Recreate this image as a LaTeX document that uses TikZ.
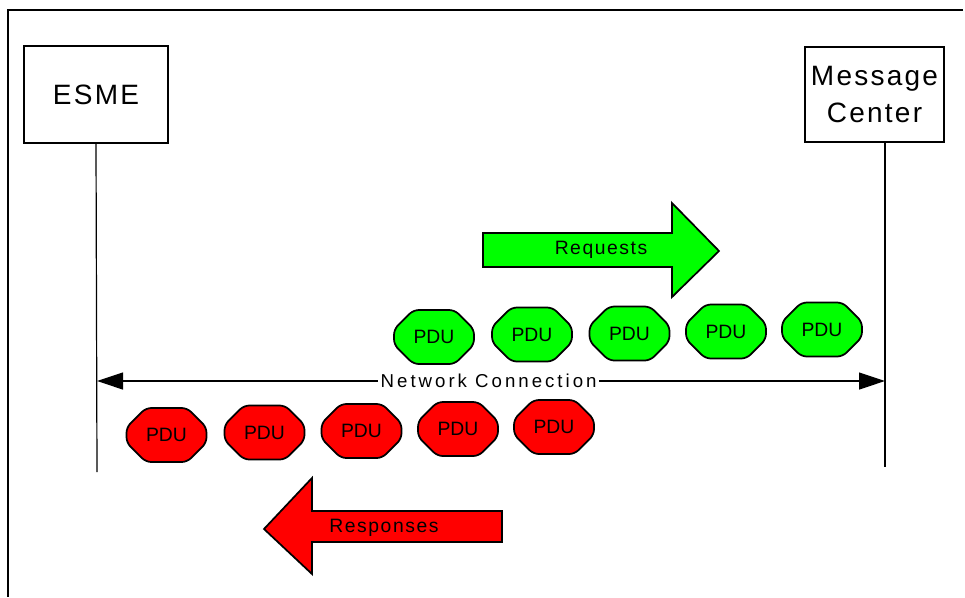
\documentclass[tikz,border=0pt]{standalone}
\usepackage{fontspec}
\setmainfont{Liberation Sans}
\newfontfamily\widefont[LetterSpace=8]{Liberation Sans}
\newfontfamily\widerfont[LetterSpace=16]{Liberation Sans}
\usetikzlibrary{arrows.meta,shapes.misc}

\definecolor{pdugreen}{RGB}{0,255,0}
\definecolor{pdured}{RGB}{255,0,0}

\tikzset{
  entity/.style={draw, line width=0.9pt, inner sep=0pt, align=center,
    font=\widefont\fontsize{21}{28}\selectfont},
  pdu/.style={chamfered rectangle, chamfered rectangle xsep=10.5pt,
    chamfered rectangle ysep=9.5pt, rounded corners=4pt, draw, line width=1.3pt,
    minimum width=60pt, minimum height=40.5pt, inner sep=0pt,
    font=\fontsize{14.5}{17}\selectfont},
  greenpdu/.style={pdu, fill=pdugreen},
  redpdu/.style={pdu, fill=pdured},
  bigarrow/.style={draw, line width=1.3pt, line join=miter},
  arrowtext/.style={inner sep=0.75pt, font=\widefont\fontsize{14.5}{17}\selectfont},
}

\begin{document}
\begin{tikzpicture}[x=0.75pt,y=0.75pt,yscale=-1,xscale=1]
\useasboundingbox (0,0) rectangle (965,597);

%Frame
\draw [line width=1.8pt]  (963,10) -- (8,10) -- (8,597) ;

% Entity Boxes
\node [entity, minimum width=108pt, minimum height=72.75pt] (esme) at (96,94.5) {ESME};
\node [entity, minimum width=104.25pt, minimum height=71.25pt] (mc) at (874.5,94.5) {Message\\Center};

%Lifelines
\coordinate (esmeend) at (97,472);
\coordinate (mctop) at (885,142);
\coordinate (mcend) at (885,467);
\draw [line width=0.9pt]  (esme.south) -- (esmeend) ;
\draw [line width=0.9pt]  (mctop) -- (mcend) ;

%Network Connection
\coordinate (netl) at (97,381);
\coordinate (netr) at (885,381);
\draw [line width=0.9pt, {Triangle[length=19.5pt,width=12.75pt]}-{Triangle[length=19.5pt,width=12.75pt]}]  (netl) -- (netr)
  node [pos=0.497, fill=white, inner sep=2pt, font=\widerfont\fontsize{14}{16}\selectfont] (net) {Network Connection} ;

%Requests Arrow
\draw [bigarrow, fill=pdugreen]  (483,233) -- (672,233) -- (672,203) -- (719,251) -- (672,297) -- (672,267) -- (483,267) -- cycle ;
\node [arrowtext] (req) at (601,250) {Requests};

%Responses Arrow
\draw [bigarrow, fill=pdured]  (502,511) -- (312,511) -- (312,478) -- (264,529) -- (312,574) -- (312,542) -- (502,542) -- cycle ;
\node [arrowtext] (resp) at (384,528) {Responses};

% Green PDUs
\node [greenpdu] (g1) at (434,337) {PDU};
\node [greenpdu] (g2) at (532,334.5) {PDU};
\node [greenpdu] (g3) at (629.5,333.5) {PDU};
\node [greenpdu] (g4) at (726,331.5) {PDU};
\node [greenpdu] (g5) at (822,329.5) {PDU};

% Red PDUs
\node [redpdu] (r1) at (166.5,435) {PDU};
\node [redpdu] (r2) at (264.5,432.5) {PDU};
\node [redpdu] (r3) at (361.5,431) {PDU};
\node [redpdu] (r4) at (458,429) {PDU};
\node [redpdu] (r5) at (554,427) {PDU};

\end{tikzpicture}
\end{document}
